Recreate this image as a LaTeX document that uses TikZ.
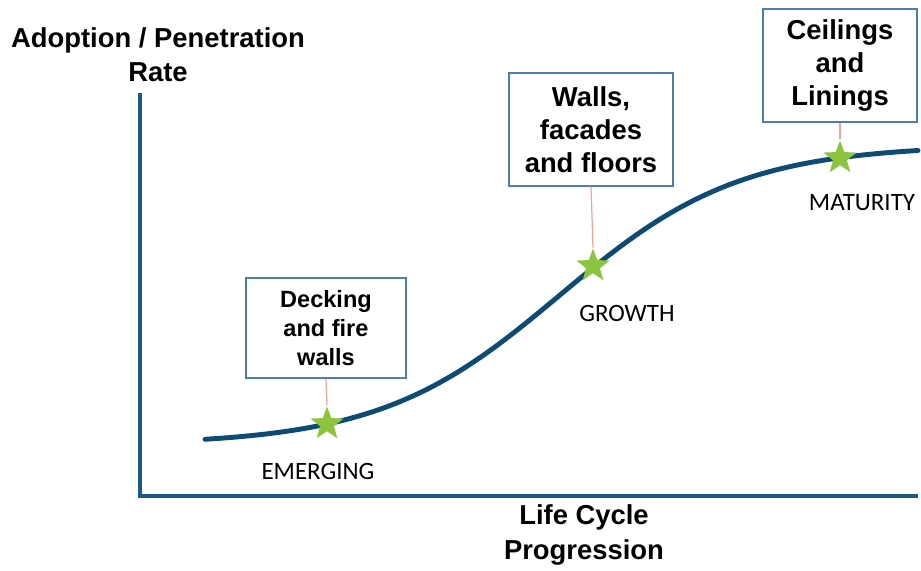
\documentclass[tikz,border=0pt]{standalone}
\usepackage{fontspec}
\setmainfont{Liberation Sans}
\newfontfamily\stagefont{Carlito}
\usepackage{tikz}
\usetikzlibrary{shapes.geometric, positioning}

\definecolor{axisblue}{HTML}{1C5A86}
\definecolor{curveblue}{HTML}{0E4B72}
\definecolor{boxblue}{HTML}{4B80A8}
\definecolor{stargreen}{HTML}{8CC43F}
\definecolor{leaderpink}{HTML}{F2A298}

\tikzset{
    axis/.style={draw=axisblue, line width=2.3pt},
    scurve/.style={draw=curveblue, line width=2.8pt, line cap=round},
    stagebox/.style={draw=boxblue, line width=0.9pt, fill=white, align=center,
        inner sep=0pt, font=\bfseries\fontsize{15.6}{18.8}\selectfont},
    stagestar/.style={star, star points=5, star point ratio=2.4, fill=stargreen,
        minimum size=0.7cm, inner sep=0pt},
    stagelabel/.style={font=\stagefont\fontsize{14.2}{16}\selectfont},
    axislabel/.style={align=center, font=\bfseries\fontsize{15.6}{19.4}\selectfont},
    leader/.style={draw=leaderpink, line width=0.7pt}
}

\begin{document}
\begin{tikzpicture}[x=0.02cm, y=-0.02cm]
    \useasboundingbox (0,0) rectangle (921,571);

    % Axes
    \draw[axis] (140,93) -- (140,496) -- (918,496);
    \node[axislabel] (ylabel) at (158,55) {Adoption / Penetration\\Rate};
    \node[axislabel] (xlabel) at (584,535) {Life Cycle\\Progression};

    % S-curve (logistic)
    \draw[scurve] plot[domain=205:918, samples=90, smooth]
        (\x, {445 - 300/(1+exp(-(\x-560)/90))});

    % Stars on the curve
    \node[stagestar] (emerging) at (327,424) {};
    \node[stagestar] (growth) at (593,266) {};
    \node[stagestar] (maturity) at (840,158) {};

    % Stage names
    \node[stagelabel] (emerginglabel) at (318,471) {EMERGING};
    \node[stagelabel] (growthlabel) at (627,313) {GROWTH};
    \node[stagelabel] (maturitylabel) at (862,203) {MATURITY};

    % Boxes
    \node[stagebox, minimum width=3.2cm, minimum height=2cm,
        font=\bfseries\fontsize{13.4}{16.5}\selectfont] (decking) at (326,328) {Decking\\and fire\\walls};
    \node[stagebox, minimum width=3.28cm, minimum height=2.26cm] (walls) at (591,129.5) {Walls,\\facades\\and floors};
    \node[stagebox, minimum width=3.08cm, minimum height=2.26cm] (ceilings) at (840,65.5) {Ceilings\\and\\Linings};

    % Leaders from boxes to stars
    \draw[leader] (decking.south) -- (emerging.north);
    \draw[leader] (walls.south) -- (growth.north);
    \draw[leader] (ceilings.south) -- (maturity.north);
\end{tikzpicture}
\end{document}
